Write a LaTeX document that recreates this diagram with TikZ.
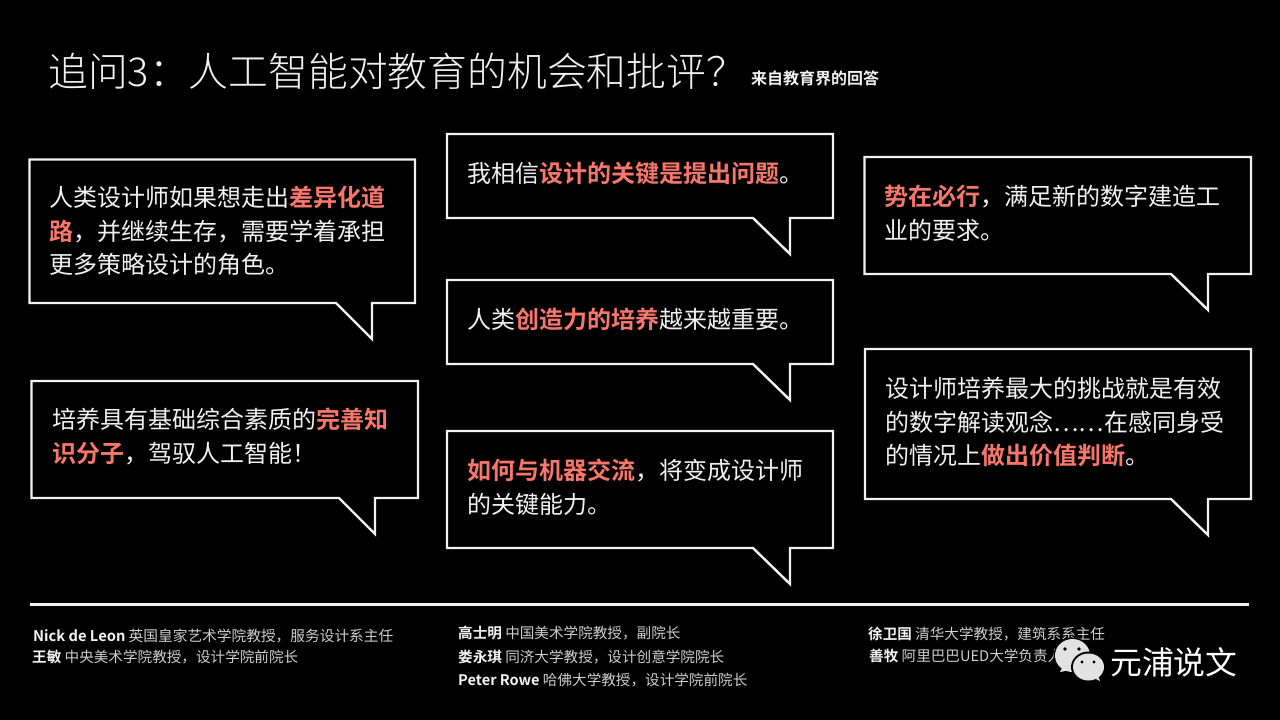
\documentclass[tikz,border=0pt]{standalone}
\usepackage{fontspec}
\setmainfont{Noto Sans CJK SC}[BoldFont={Noto Sans CJK SC Bold}]
\newfontfamily\lightcjk{Noto Sans CJK SC Light}
\definecolor{hl}{HTML}{F8776C}
\definecolor{txt}{HTML}{F2F2F2}
\definecolor{logo}{HTML}{E2E2E2}
\newcommand{\hlt}[1]{\textcolor{hl}{\textbf{#1}}}
\newcommand{\who}[1]{\textcolor{txt}{\textbf{#1}}}
\tikzset{
  x=1pt,y=-1pt,
  bubble/.style={draw=txt,line width=2.4pt,line join=miter,fill=black},
  body/.style={anchor=north west,inner sep=0pt,text=txt,align=left,font=\fontsize{24}{33.5}\selectfont},
  credit/.style={anchor=west,inner sep=0pt,text=txt!85!black,font=\fontsize{14.6}{16}\selectfont},
}
\begin{document}
\begin{tikzpicture}
\useasboundingbox (0,0) rectangle (1280,720);
\fill[black] (0,0) rectangle (1280,720);
\node[anchor=west,inner sep=0pt,text=txt,font=\lightcjk\fontsize{39.8}{42}\selectfont] (title) at (48,71) {追问3：人工智能对教育的机会和批评？};
\node[anchor=west,inner sep=0pt,text=txt,font=\bfseries\fontsize{16}{18}\selectfont] (sub) at (751,78) {来自教育界的回答};
% bubbles
\draw[bubble] (29.5,159.5) -- (415,159.5) -- (415,303) -- (372,303) -- (372,339) -- (336,303) -- (29.5,303) -- cycle;
\draw[bubble] (31.5,381) -- (418,381) -- (418,498) -- (375,498) -- (375,534) -- (339,498) -- (31.5,498) -- cycle;
\draw[bubble] (447,134) -- (833,134) -- (833,218) -- (790,218) -- (790,254) -- (753,218) -- (447,218) -- cycle;
\draw[bubble] (447,280) -- (833,280) -- (833,364) -- (790,364) -- (790,400) -- (753,364) -- (447,364) -- cycle;
\draw[bubble] (447,431) -- (833,431) -- (833,548) -- (790,548) -- (790,584) -- (753,548) -- (447,548) -- cycle;
\draw[bubble] (864.5,157) -- (1251,157) -- (1251,274) -- (1208,274) -- (1208,310) -- (1171,274) -- (864.5,274) -- cycle;
\draw[bubble] (865,349) -- (1251,349) -- (1251,499) -- (1208,499) -- (1208,535) -- (1171,499) -- (865,499) -- cycle;
% texts
\node[body] (t1) at (49,186) {人类设计师如果想走出\hlt{差异化道}\\\hlt{路}，并继续生存，需要学着承担\\更多策略设计的角色。};
\node[body] (t2) at (52,408) {培养具有基础综合素质的\hlt{完善知}\\\hlt{识分子}，驾驭人工智能！};
\node[body] (t3) at (467,162) {我相信\hlt{设计的关键是提出问题}。};
\node[body] (t4) at (467,308) {人类\hlt{创造力的培养}越来越重要。};
\node[body] (t5) at (467,459) {\hlt{如何与机器交流}，将变成设计师\\的关键能力。};
\node[body] (t6) at (884,185) {\hlt{势在必行}，满足新的数字建造工\\业的要求。};
\node[body] (t7) at (885,377) {设计师培养最大的挑战就是有效\\的数字解读观念……在感同身受\\的情况上\hlt{做出价值判断}。};
% rule
\draw[txt,line width=3pt] (30,604.5) -- (1249,604.5);
% credits
\node[credit,font=\fontsize{14.7}{16}\selectfont] (c1) at (33,636) {\who{Nick de Leon} 英国皇家艺术学院教授，服务设计系主任};
\node[credit] (c2) at (32,657) {\who{王敏} 中央美术学院教授，设计学院前院长};
\node[credit] (c3) at (458,633) {\who{高士明} 中国美术学院教授，副院长};
\node[credit] (c4) at (458,657) {\who{娄永琪} 同济大学教授，设计创意学院院长};
\node[credit] (c5) at (458,680) {\who{Peter Rowe} 哈佛大学教授，设计学院前院长};
\node[credit] (c6) at (868,634) {\who{徐卫国} 清华大学教授，建筑系系主任};
\node[credit] (c7) at (869,656) {\who{善牧} 阿里巴巴UED大学负责人};
% watermark
\fill[black] (1072.5,655.5) ellipse[x radius=19,y radius=18];
\fill[logo] (1072.5,655.5) ellipse[x radius=17.5,y radius=16.5];
\fill[logo] (1062,668) -- (1060,672) -- (1070,670) -- cycle;
\fill[black] (1088.5,667) ellipse[x radius=17.5,y radius=15.5];
\fill[logo] (1088.5,667) ellipse[x radius=15.5,y radius=13.5];
\fill[logo] (1094,678) -- (1100,681) -- (1098,676) -- cycle;
\fill[black] (1065,649) circle (1.8) (1079,649) circle (1.8) (1082,662) circle (1.6) (1094,662) circle (1.6);
\node[anchor=west,inner sep=0pt,text=white,font=\fontsize{31.8}{34}\selectfont] (wm) at (1110,662) {元浦说文};
\end{tikzpicture}
\end{document}
